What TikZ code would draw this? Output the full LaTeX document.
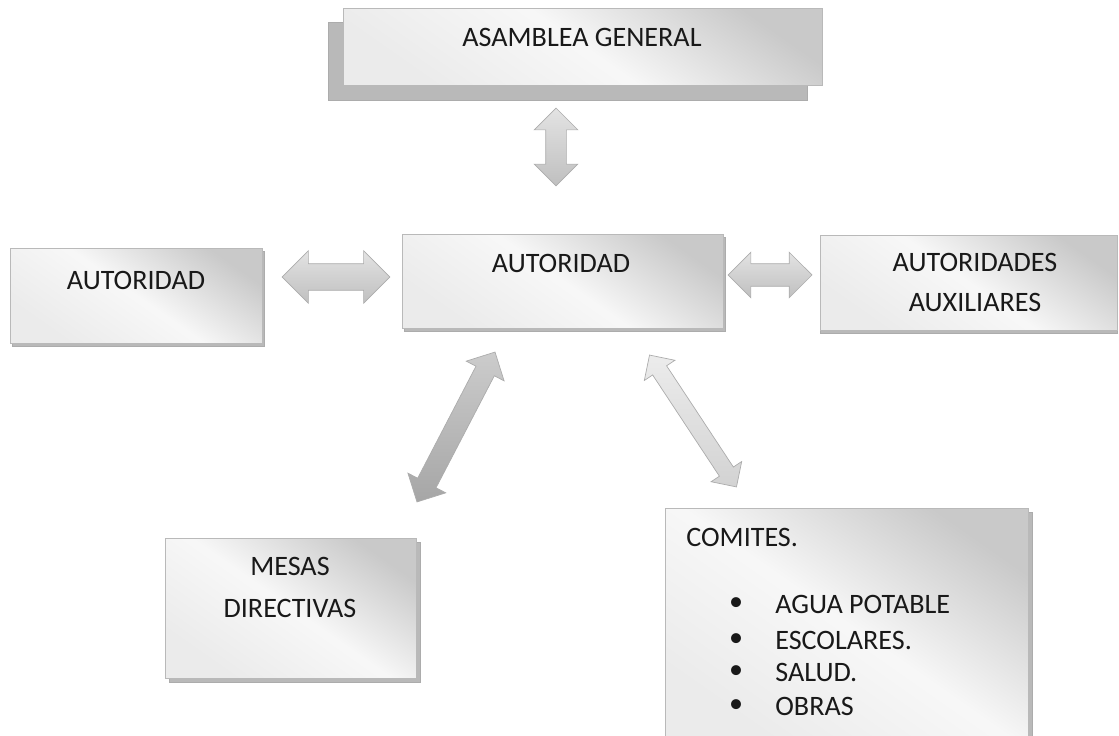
\documentclass[tikz,border=0pt]{standalone}
\usepackage{fontspec}
\setmainfont{Carlito}
\usetikzlibrary{shapes.arrows,backgrounds}

\tikzset{
    caja/.style={rectangle, draw=gray!55, inner sep=0pt, anchor=north west,
        shading=axis, left color=gray!42, right color=gray!16, middle color=gray!6, shading angle=-35},
    sombra/.style={fill=gray!55, draw=gray!65},
    texto/.style={font=\fontsize{16}{19}\selectfont, inner sep=0pt, text=black!90},
    flecha/.style={double arrow, draw=gray!65, inner xsep=0pt,
        shading=axis, top color=gray!22, bottom color=gray!50, shading angle=0},
}

\begin{document}
\begin{tikzpicture}[x=0.02cm, y=0.02cm]
    \useasboundingbox (0,0) rectangle (1119,-736);
    % cajas
    \node[caja, minimum width=9.58cm, minimum height=1.54cm] (asamblea) at (343,-8) {};
    \node[caja, minimum width=5.04cm, minimum height=1.90cm] (autizq) at (10,-248) {};
    \node[caja, minimum width=6.42cm, minimum height=1.88cm] (autcen) at (402,-234) {};
    \node[caja, minimum width=5.94cm, minimum height=1.90cm] (auxil) at (820,-235) {};
    \node[caja, minimum width=5.02cm, minimum height=2.80cm] (mesas) at (165,-538) {};
    \node[caja, minimum width=7.26cm, minimum height=4.64cm] (comites) at (665,-508) {};
    % sombras
    \begin{scope}[on background layer]
        \draw[sombra] ([shift={(-15,-14)}]asamblea.north west) rectangle ([shift={(-15,-15)}]asamblea.south east);
        \draw[sombra] ([shift={(2,-3)}]autizq.north west) rectangle ([shift={(2,-3)}]autizq.south east);
        \draw[sombra] ([shift={(2,-3)}]autcen.north west) rectangle ([shift={(2,-3)}]autcen.south east);
        \draw[sombra] ([shift={(0,-3)}]auxil.north west) rectangle ([shift={(0,-3)}]auxil.south east);
        \draw[sombra] ([shift={(4,-4)}]mesas.north west) rectangle ([shift={(4,-4)}]mesas.south east);
        \draw[sombra] ([shift={(4,-4)}]comites.north west) rectangle ([shift={(4,-4)}]comites.south east);
    \end{scope}
    % textos
    \node[texto] (tasamblea) at (582,-37) {ASAMBLEA GENERAL};
    \node[texto] (tautizq) at (136,-280) {AUTORIDAD};
    \node[texto] (tautcen) at (561,-263) {AUTORIDAD};
    \node[texto] (tauxil1) at (975,-262) {AUTORIDADES};
    \node[texto] (tauxil2) at (975,-302) {AUXILIARES};
    \node[texto] (tmesas1) at (290,-566) {MESAS};
    \node[texto] (tmesas2) at (290,-608) {DIRECTIVAS};
    \node[texto, anchor=west] (tcomites) at (686,-537) {COMITES.};
    \foreach \y/\t in {604/AGUA POTABLE, 640/ESCOLARES., 672/SALUD., 706/OBRAS} {
        \node[texto] at (736,-\y) {\textbullet};
        \node[texto, anchor=west] at (775,-\y) {\t};
    }
    % flechas
    \node[flecha, rotate=90, minimum height=1.56cm, inner ysep=0.2cm, double arrow head extend=0.23cm] (fv) at (556,-147) {};
    \node[flecha, minimum height=2.16cm, inner ysep=0.26cm, double arrow head extend=0.26cm] (fizq) at (336,-277) {};
    \node[flecha, minimum height=1.68cm, inner ysep=0.22cm, double arrow head extend=0.23cm] (fder) at (770,-275) {};
    \node[flecha, rotate=62.5, minimum height=3.38cm, inner ysep=0.2cm, double arrow head extend=0.22cm,
        top color=gray!40, bottom color=gray!70] (fdizq) at (456,-427) {};
    \node[flecha, rotate=-56.6, minimum height=3.16cm, inner ysep=0.16cm, double arrow head extend=0.2cm,
        top color=gray!15, bottom color=gray!35] (fdder) at (693,-421) {};
\end{tikzpicture}
\end{document}
